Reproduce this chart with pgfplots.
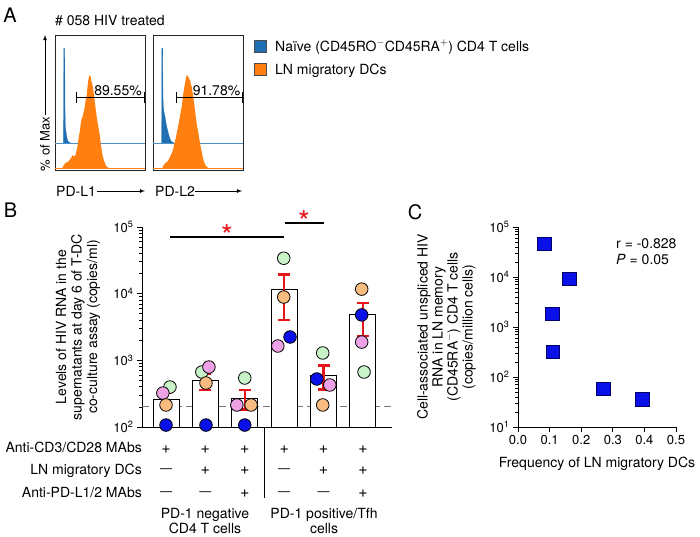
\documentclass[border=0pt]{standalone}
\usepackage{fontspec}
\setmainfont{TeX Gyre Heros}
\usepackage{pgfplots}
\pgfplotsset{compat=1.18}
\definecolor{hblue}{HTML}{1F6FB2}
\definecolor{hblueline}{HTML}{4A90C8}
\definecolor{horange}{HTML}{FF8010}
\definecolor{cgreen}{HTML}{C8F2C8}
\definecolor{corange}{HTML}{F8BC80}
\definecolor{cpink}{HTML}{EEA2E6}
\definecolor{cblue}{HTML}{0A10E8}
\definecolor{sigred}{HTML}{E8141B}
\pgfplotsset{histo/.style={anchor=south west, scale only axis, width=90pt, height=135pt,
  xmin=0, xmax=90, ymin=0, ymax=135, ytick=\empty, xtick=\empty, clip=false,
  minor xtick={3,9,12.5,15,17,18.6,19.9,21,22,23,29,32.5,35,37,38.6,39.9,41,42,43,49,52.5,55,57,58.6,59.9,61,62,63,69,72.5,75,77,78.6,79.9,81,82,83,89},
  xtick pos=left, tick align=outside, minor tick length=5pt,
  axis line style={line width=0.8pt, black!85},
  every minor tick/.style={black!70, line width=0.6pt}}}
\pgfplotsset{dot/.style={only marks, mark=*, mark size=6.3pt, mark options={fill=#1, draw=black, line width=0.8pt}}}
\begin{document}
\begin{tikzpicture}[font=\fontsize{14}{15.5}\selectfont]
\begin{scope}[x=1pt,y=-1pt, lbl/.style={inner sep=0pt}]
\useasboundingbox (0,0) rectangle (700,536);
% panel letters
\node[lbl, font=\fontsize{20}{20}\selectfont] at (10,15) {A};
\node[lbl, font=\fontsize{20}{20}\selectfont] at (10.5,210) {B};
\node[lbl, font=\fontsize{20}{20}\selectfont] at (415,212) {C};
% panel A texts
\node[lbl, anchor=base west] at (55,25) {\# 058 HIV treated};
\node[lbl, rotate=90, font=\fontsize{13}{13}\selectfont] at (45,144) {\% of Max};
\draw[-latex, line width=0.8pt] (45,115) -- (45,35);
\node[lbl, anchor=base west] at (56,196) {PD-L1};
\draw[-latex, line width=0.8pt] (97,191) -- (145,191);
\node[lbl, anchor=base west] at (155,196) {PD-L2};
\draw[-latex, line width=0.8pt] (195,191) -- (242,191);
% legend A
\draw[fill=hblue, draw=black!70, line width=0.6pt] (254,40) rectangle (266,52);
\node[lbl, anchor=base west] at (275,51) {Naïve (CD45RO$^{-}$CD45RA$^{+}$) CD4 T cells};
\draw[fill=horange, draw=black!70, line width=0.6pt] (254,63) rectangle (266,75);
\node[lbl, anchor=base west] at (275,74) {LN migratory DCs};
% panel B annotations
\node[lbl, rotate=90, align=center] at (78,327) {Levels of HIV RNA in the\\supernatants at day 6 of T-DC\\co-culture assay (copies/ml)};
\draw[line width=1.2pt] (170,237) -- (284,237);
\draw[line width=1.2pt] (285,223) -- (324,223);
\node[lbl, anchor=base, text=sigred, font=\fontsize{30}{30}\selectfont] at (227,246.5) {*};
\node[lbl, anchor=base, text=sigred, font=\fontsize{30}{30}\selectfont] at (304,232.5) {*};
\node[lbl, anchor=base east] at (142,452.5) {Anti-CD3/CD28 MAbs};
\node[lbl, anchor=base east] at (142,474) {LN migratory DCs};
\node[lbl, anchor=base east] at (142,497) {Anti-PD-L1/2 MAbs};
\foreach \x in {166,205.4,244.8,284.2,323.6,363} {\node[lbl, anchor=base, font=\fontsize{16}{16}\selectfont] at (\x,453) {+};}
\foreach \x in {205.4,244.8,323.6,363} {\node[lbl, anchor=base, font=\fontsize{16}{16}\selectfont] at (\x,474.5) {+};}
\foreach \x in {244.8,363} {\node[lbl, anchor=base, font=\fontsize{16}{16}\selectfont] at (\x,497.5) {+};}
\foreach \x in {166,284.2} {\node[lbl, anchor=base, font=\fontsize{12}{12}\selectfont] at (\x,472.8) {—};}
\foreach \x in {166,205.4,284.2,323.6} {\node[lbl, anchor=base, font=\fontsize{12}{12}\selectfont] at (\x,495.8) {—};}
\draw[line width=1pt] (264,427) -- (264,498);
\node[lbl, anchor=base] at (205,518) {PD-1 negative};
\node[lbl, anchor=base] at (205,533) {CD4 T cells};
\node[lbl, anchor=base] at (324,518) {PD-1 positive/Tfh};
\node[lbl, anchor=base] at (324,533) {cells};
% panel C annotations
\node[lbl, rotate=90, align=center, font=\fontsize{14}{15}\selectfont] at (446.5,327) {Cell-associated unspliced HIV\\RNA in LN memory\\(CD45RA$^{-}$) CD4 T cells\\(copies/million cells)};
\node[lbl, anchor=base west] at (616,248) {r = -0.828};
\node[lbl, anchor=base west] at (616,264) {\textit{P} = 0.05};
\node[lbl, anchor=base] at (597,467) {Frequency of LN migratory DCs};
\end{scope}

% ---------- Panel A histograms ----------
\begin{axis}[histo, at={(55pt,-170pt)}]
\addplot[fill=hblue, draw=hblue, line width=0.3pt] coordinates {(8.6,27) (8.8,121.7) (9.7,121.7) (10.0,60) (10.3,43.3) (11,38) (11.7,33.3) (12.5,30) (13.3,28.3) (14.5,27.5) (15.7,27)};
\addplot[hblueline, line width=0.8pt] coordinates {(0,27) (90,27)};
\addplot[horange, line width=0.8pt] coordinates {(0,1.5) (90,1.5)};
\addplot[fill=horange, draw=none] coordinates {(7.7,1.5) (7.7,3.3) (9,5) (10,6.7) (11.5,7.5) (13.3,8.3) (14.5,10) (15.7,11.7) (16.7,13) (17.7,15) (18.8,13.5) (20,14) (21,17) (21.7,20) (22.5,24) (23.3,30) (24.2,35) (25,40) (25.8,47) (26.7,51.7) (27.5,53) (28.3,56.7) (29.2,60) (30,65) (30.8,71) (31.7,75) (32.5,83) (33.3,90) (34.3,95) (35,94) (35.7,93.3) (36.3,89) (37,86.7) (37.7,84) (38.3,80) (39.2,73) (40,66.7) (40.8,60) (41.7,53.3) (42.5,48) (43.3,43.3) (44.2,38) (45,33.3) (45.8,26) (46.7,20) (47.5,15) (48.3,11.7) (49.2,9) (50,6.7) (51.7,3.3) (53,2.5) (54.3,1.5)};
\draw[line width=1pt] (axis cs:21.7,72.3) -- (axis cs:90,72.3);
\draw[line width=1pt] (axis cs:21.7,67) -- (axis cs:21.7,77.6);
\draw[line width=1.6pt] (axis cs:89.6,67) -- (axis cs:89.6,77.6);
\node[inner sep=0pt, anchor=base] at (axis cs:63,75) {89.55\%};
\end{axis}
\begin{axis}[histo, at={(153pt,-170pt)}]
\addplot[fill=hblue, draw=hblue, line width=0.3pt] coordinates {(8.7,27) (8.9,121.7) (9.6,121.7) (9.9,75) (10.3,63.3) (11,58) (12,53.3) (12.8,48) (13.7,43.3) (15,38) (16.3,33.3) (17.5,30) (18.7,28.3) (21,27)};
\addplot[hblueline, line width=0.8pt] coordinates {(0,27) (90,27)};
\addplot[horange, line width=0.8pt] coordinates {(0,1.5) (90,1.5)};
\addplot[fill=horange, draw=none] coordinates {(9.7,1.5) (9.7,3.3) (12,6.7) (14.3,8.3) (15.5,10) (17,13.3) (18.7,16.7) (20,20) (21,25) (22.3,30) (23.7,36.7) (25,43) (26.3,50) (27.5,57) (28.7,63.3) (29.5,70) (30.3,76.7) (31.2,82) (32,86.7) (32.8,91) (33.7,95) (34.5,94) (35.3,93.3) (36.2,91) (37,90) (37.8,86) (38.7,83.3) (39.5,78) (40.3,73.3) (41.2,66) (42,60) (42.8,53) (43.7,46.7) (44.8,40) (46,33.3) (47.3,25) (48.7,18.3) (50,12) (51,8.3) (52.3,5) (53.7,3.3) (55,2.3) (56.3,1.5)};
\draw[line width=1pt] (axis cs:23.7,72.3) -- (axis cs:90,72.3);
\draw[line width=1pt] (axis cs:23.7,67) -- (axis cs:23.7,77.6);
\draw[line width=1.6pt] (axis cs:89.6,67) -- (axis cs:89.6,77.6);
\node[inner sep=0pt, anchor=base] at (axis cs:63.5,75) {91.78\%};
\end{axis}

% ---------- Panel B ----------
\begin{axis}[at={(142pt,-427pt)}, anchor=south west, scale only axis, width=250pt, height=200pt,
  xmin=0.39, xmax=6.74, ymode=log, ymin=100, ymax=100000, log origin y=infty,
  axis lines*=left, axis line style={line width=1pt},
  xtick=\empty, ytick={100,1000,10000,100000},
  yticklabels={10\textsuperscript{2},10\textsuperscript{3},10\textsuperscript{4},10\textsuperscript{5}},
  tick align=outside, major tick length=5pt, minor tick length=3pt,
  tick style={line width=0.8pt, black},
  tick label style={font=\fontsize{13}{13}\selectfont}]
\addplot[black!55, dash pattern=on 7pt off 4pt, line width=0.9pt] coordinates {(0.39,200) (6.74,200)};
\addplot[ybar, bar width=26pt, fill=white, draw=black, line width=1pt,
  error bars/.cd, y dir=both, y explicit,
  error bar style={sigred, line width=2.4pt},
  error mark options={sigred, line width=2.4pt, mark size=6pt, rotate=90}]
  coordinates {(1,263) +- (0,60) (2,490) +- (0,130) (3,272) +- (0,90) (4,11700) +- (0,7700) (5,600) +- (0,235) (6,4800) +- (0,2470)};
\addplot[dot=cgreen] coordinates {(1.10,398) (1.91,668) (3.0,543) (3.99,34000) (4.98,1290) (6.03,668)};
\addplot[dot=cpink] coordinates {(0.92,323) (2.09,794) (2.80,214) (3.84,1640) (5.16,427) (5.97,1880)};
\addplot[dot=corange] coordinates {(1.0,214) (2.015,457) (3.16,214) (3.99,8900) (4.98,214) (5.97,11700)};
\addplot[dot=cblue] coordinates {(1.0,107) (2.015,107) (3.0,107) (4.15,2240) (4.83,525) (5.97,4800)};
\end{axis}

% ---------- Panel C ----------
\begin{axis}[at={(518pt,-427pt)}, anchor=south west, scale only axis, width=158pt, height=200pt,
  xmin=0, xmax=0.5, ymode=log, ymin=10, ymax=100000,
  axis lines*=left, axis line style={line width=1pt},
  xtick={0,0.1,0.2,0.3,0.4,0.5}, xticklabels={0.0,0.1,0.2,0.3,0.4,0.5},
  ytick={10,100,1000,10000,100000},
  yticklabels={10\textsuperscript{1},10\textsuperscript{2},10\textsuperscript{3},10\textsuperscript{4},10\textsuperscript{5}},
  tick align=outside, major tick length=5pt, minor tick length=3pt,
  tick style={line width=0.8pt, black},
  tick label style={font=\fontsize{13}{13}\selectfont}]
\addplot[only marks, mark=square*, mark size=6.8pt, mark options={fill=cblue, draw=black!60!blue, line width=0.8pt}]
  coordinates {(0.083,45700) (0.162,9100) (0.108,1820) (0.111,316) (0.27,57.5) (0.394,36)};
\end{axis}
\end{tikzpicture}
\end{document}
